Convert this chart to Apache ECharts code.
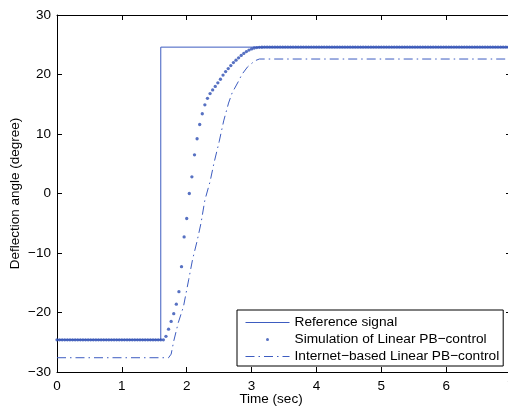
<!DOCTYPE html>
<html>
<head>
<meta charset="utf-8">
<script src="https://cdn.jsdelivr.net/npm/echarts@6/dist/echarts.min.js"></script>
<style>
html,body{margin:0;padding:0;overflow:hidden;background:#fff;width:508px;height:409px;}
#c{width:520px;height:409px;}
</style>
</head>
<body>
<div id="c"></div>
<script>
// ---- data ----
var refTime = [0, 1.6, 1.6, 7];
var refValue = [-24.6, -24.6, 24.6, 24.6];

var simStep = 0.04; // sampling period of the simulated response
var simValue = [
  -24.6,-24.6,-24.6,-24.6,-24.6,-24.6,-24.6,-24.6,-24.6,-24.6,
  -24.6,-24.6,-24.6,-24.6,-24.6,-24.6,-24.6,-24.6,-24.6,-24.6,
  -24.6,-24.6,-24.6,-24.6,-24.6,-24.6,-24.6,-24.6,-24.6,-24.6,
  -24.6,-24.6,-24.6,-24.6,-24.6,-24.6,-24.6,-24.6,-24.6,-24.6,
  -24.6,-24.6,
  -24.0,-22.8,-21.5,-20.2,-18.6,-16.5,-12.3,-7.3,-4.2,0.0,
  2.8,6.5,9.2,11.6,13.4,14.9,16.0,16.8,17.4,18.0,
  18.6,19.2,19.9,20.5,21.0,21.5,22.0,22.4,22.8,23.2,
  23.55,23.85,24.1,24.3,24.45,24.52,24.56,24.58,
  24.6,24.6,24.6,24.6,24.6,24.6,24.6,24.6,24.6,24.6,
  24.6,24.6,24.6,24.6,24.6,24.6,24.6,24.6,24.6,24.6,
  24.6,24.6,24.6,24.6,24.6,24.6,24.6,24.6,24.6,24.6,
  24.6,24.6,24.6,24.6,24.6,24.6,24.6,24.6,24.6,24.6,
  24.6,24.6,24.6,24.6,24.6,24.6,24.6,24.6,24.6,24.6,
  24.6,24.6,24.6,24.6,24.6,24.6,24.6,24.6,24.6,24.6,
  24.6,24.6,24.6,24.6,24.6,24.6,24.6,24.6,24.6,24.6,
  24.6,24.6,24.6,24.6,24.6,24.6,24.6,24.6,24.6,24.6,
  24.6,24.6,24.6,24.6,24.6,24.6,24.6,24.6,24.6,24.6,
  24.6,24.6,24.6,24.6,24.6,24.6
];

var netTime  = [0, 1.72, 1.76, 1.80, 1.87, 1.95, 2.03, 2.09, 2.16, 2.22, 2.28, 2.36, 2.42, 2.50, 2.57, 2.645, 2.70, 2.80, 2.85, 2.94, 3.05, 3.12, 7];
var netValue = [-27.6, -27.6, -27.0, -24.8, -21.7, -19.0, -14.5, -11.1, -8.0, -5.0, -1.1, 2.0, 5.1, 8.7, 12.2, 15.2, 16.9, 18.9, 20.0, 21.3, 22.3, 22.6, 22.6];

var xTicks = [0, 1, 2, 3, 4, 5, 6, 7];
var yTicks = [-30, -20, -10, 0, 10, 20, 30];

var seriesNames = ['Reference signal', 'Simulation of Linear PB\u2212control', 'Internet\u2212based Linear PB\u2212control'];

// ---- build ----
function zip(a, b) { return a.map(function (v, i) { return [v, b[i]]; }); }
var simData = simValue.map(function (v, i) { return [+(i * simStep).toFixed(2), v]; });

var FONT = 'Liberation Sans, Arial, Helvetica, sans-serif';
var FS = 13.5;
var lineColor = '#3d5cc0';
var dotColor = '#2d4db3';
var dashDot = [9, 4, 1.5, 4];

function axisCommon(extra) {
  var o = {
    axisLine: { show: true, onZero: false, lineStyle: { color: '#000', width: 1 } },
    axisTick: { show: true, inside: true, length: 5, lineStyle: { color: '#000', width: 1 } },
    splitLine: { show: false },
    axisLabel: { color: '#000', fontSize: FS, fontFamily: FONT }
  };
  for (var k in extra) o[k] = extra[k];
  return o;
}

var chart = echarts.init(document.getElementById('c'), null, { renderer: 'canvas' });
chart.setOption({
  animation: false,
  backgroundColor: '#fff',
  grid: { left: 57, right: 9, top: 15, bottom: 37, containLabel: false, outerBoundsMode: 'none' },
  xAxis: [
    axisCommon({ type: 'value', min: xTicks[0], max: xTicks[xTicks.length - 1], interval: 1, position: 'bottom',
      name: 'Time (sec)', nameLocation: 'middle', nameGap: 20, nameMoveOverlap: false,
      nameTextStyle: { color: '#000', fontSize: FS, fontFamily: FONT, padding: [0, 26, 0, 0] },
      axisLabel: { color: '#000', fontSize: FS, fontFamily: FONT, margin: 7, showMaxLabel: true, showMinLabel: true, hideOverlap: false } }),
    axisCommon({ type: 'value', min: xTicks[0], max: xTicks[xTicks.length - 1], interval: 1, position: 'top',
      axisLabel: { show: false } })
  ],
  yAxis: [
    axisCommon({ type: 'value', min: yTicks[0], max: yTicks[yTicks.length - 1], interval: 10, position: 'left',
      name: 'Deflection angle (degree)', nameLocation: 'middle', nameGap: 35, nameMoveOverlap: false,
      nameTextStyle: { color: '#000', fontSize: FS, fontFamily: FONT },
      axisLabel: { color: '#000', fontSize: FS, fontFamily: FONT, margin: 6,
        formatter: function (v) { return String(v).replace('-', '\u2212'); } } }),
    axisCommon({ type: 'value', min: yTicks[0], max: yTicks[yTicks.length - 1], interval: 10, position: 'right',
      axisLabel: { show: false } })
  ],
  legend: {
    orient: 'vertical',
    left: 237, top: 310,
    backgroundColor: '#fff',
    borderColor: '#000', borderWidth: 1, borderRadius: 0,
    padding: [5, 4, 2, 8],
    itemWidth: 44, itemHeight: 3, itemGap: 2,
    textStyle: { color: '#000', fontSize: 13.7, fontFamily: FONT, lineHeight: 15 },
    data: [
      { name: seriesNames[0], itemStyle: { opacity: 0 }, lineStyle: { width: 1, color: lineColor } },
      { name: seriesNames[1], icon: 'circle' },
      { name: seriesNames[2], itemStyle: { opacity: 0 }, lineStyle: { width: 1, color: lineColor, type: dashDot } }
    ]
  },
  series: [
    {
      name: seriesNames[0], type: 'line', data: zip(refTime, refValue),
      showSymbol: false, symbol: 'none',
      lineStyle: { color: lineColor, width: 1 }, itemStyle: { color: lineColor }, z: 2
    },
    {
      name: seriesNames[1], type: 'scatter', data: simData,
      symbol: 'circle', symbolSize: 3.3,
      itemStyle: { color: dotColor }, z: 3
    },
    {
      name: seriesNames[2], type: 'line', data: zip(netTime, netValue),
      showSymbol: false, symbol: 'none',
      lineStyle: { color: lineColor, width: 1, type: dashDot }, itemStyle: { color: lineColor }, z: 2
    }
  ]
});
</script>
</body>
</html>
